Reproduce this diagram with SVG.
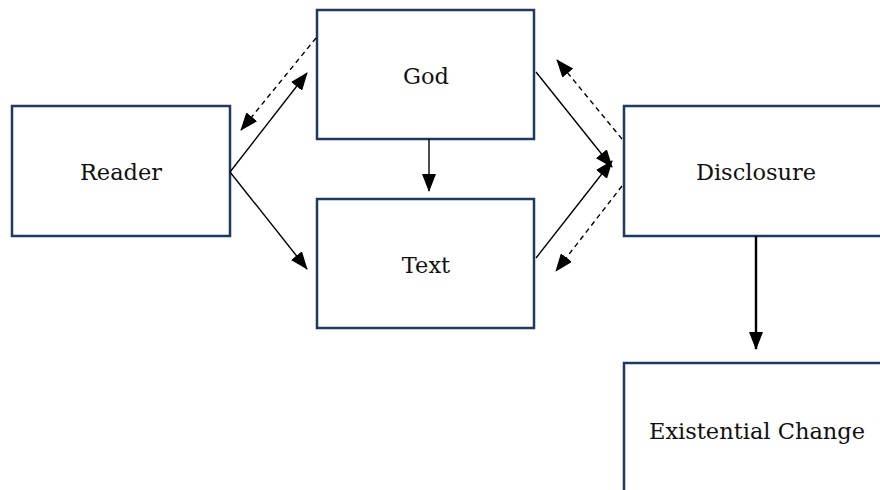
<svg xmlns="http://www.w3.org/2000/svg" width="880" height="490" viewBox="0 0 880 490">
<defs>
<marker id="ah" markerUnits="userSpaceOnUse" markerWidth="18" markerHeight="14" refX="17" refY="7" orient="auto"><path d="M0,0 L18,7 L0,14 z" fill="#000"/></marker>
</defs>
<style>
.box{fill:#fff;stroke:#203864;stroke-width:2.5}
.lbl{font-family:"DejaVu Serif","Liberation Serif",serif;font-size:22.5px;fill:#111;text-anchor:middle}
.c{stroke:#000;stroke-width:1.4;fill:none;marker-end:url(#ah)}
.d{stroke-dasharray:5,4}
</style>
<rect width="880" height="490" fill="#fff"/>
<g id="reader"><rect class="box" x="12" y="106" width="218" height="130"/><text class="lbl" x="121" y="180">Reader</text></g>
<g id="god"><rect class="box" x="317" y="10" width="217" height="129"/><text class="lbl" x="426" y="84">God</text></g>
<g id="text"><rect class="box" x="317" y="199" width="217" height="129"/><text class="lbl" x="426" y="273">Text</text></g>
<g id="disclosure"><rect class="box" x="624" y="106" width="270" height="130"/><text class="lbl" x="756" y="180">Disclosure</text></g>
<g id="change"><rect class="box" x="624" y="363" width="270" height="140"/><text class="lbl" x="757" y="439">Existential Change</text></g>
<g id="connectors">
<path class="c" d="M230,172 L307,73"/>
<path class="c" d="M230,172 L307,269"/>
<path class="c d" d="M316,38 L241,130"/>
<path class="c" d="M429,139 L429,191"/>
<path class="c" d="M536,72 L612,167"/>
<path class="c" d="M536,258 L612,161"/>
<path class="c d" d="M622,139 L557,60"/>
<path class="c d" d="M622,186 L556,271"/>
<path class="c" style="stroke-width:2.4" d="M756,236 L756,349"/>
</g>
</svg>
